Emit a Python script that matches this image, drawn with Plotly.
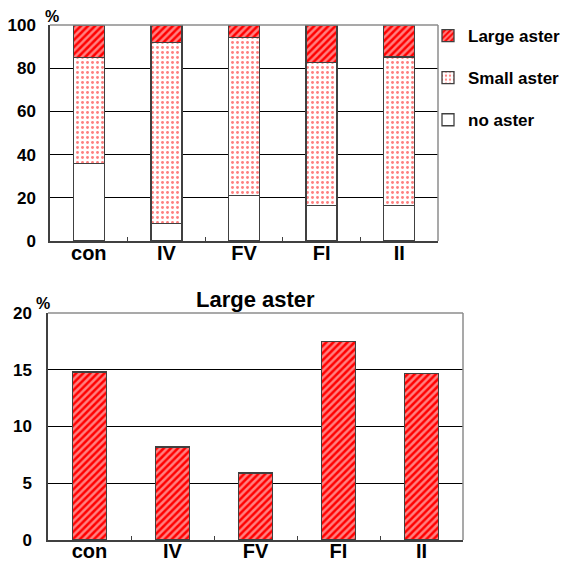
import plotly.graph_objects as go

categories = ["con", "IV", "FV", "FI", "II"]
no_aster = [36, 8, 21, 16.5, 16.5]
small_aster = [49, 83.8, 73.1, 66, 68.7]
large_aster = [15, 8.2, 5.9, 17.5, 14.8]
large_only = [14.8, 8.2, 5.9, 17.5, 14.7]
top_ticks = [0, 20, 40, 60, 80, 100]
bottom_ticks = [0, 5, 10, 15, 20]

FONT = "Liberation Sans, Arial, sans-serif"
DARK = "#404040"
GRAY = "#8c8c8c"

hatch = dict(shape="/", fgcolor="white", bgcolor="#ff0000", size=5, solidity=0.5)
dots = dict(shape=".", fgcolor="#ff0000", bgcolor="white", size=5, solidity=0.26)

fig = go.Figure()
fig.add_trace(go.Bar(x=categories, y=no_aster, name="no aster", legendgroup="c", legendrank=3,
                     marker=dict(color="white", line=dict(color=DARK, width=1.3)),
                     width=0.4, xaxis="x", yaxis="y"))
fig.add_trace(go.Bar(x=categories, y=small_aster, name="Small aster", legendgroup="b", legendrank=2,
                     marker=dict(color="white", pattern=dots, line=dict(color=DARK, width=1.3)),
                     width=0.4, xaxis="x", yaxis="y"))
fig.add_trace(go.Bar(x=categories, y=large_aster, name="Large aster", legendgroup="a", legendrank=1,
                     marker=dict(color="#ff0000", pattern=hatch, line=dict(color=DARK, width=1.3)),
                     width=0.4, xaxis="x", yaxis="y"))
fig.add_trace(go.Bar(x=categories, y=large_only, name="Large aster", showlegend=False,
                     marker=dict(color="#ff0000", pattern=hatch, line=dict(color=DARK, width=1.3)),
                     width=0.41, xaxis="x2", yaxis="y2"))

W, H = 566, 562
tickfont_x = dict(family=FONT, size=20, color="black", weight="bold")
tickfont_y = dict(family=FONT, size=17, color="black", weight="bold")
pct_font = dict(family=FONT, size=16, color="black", weight="bold")

fig.update_layout(
    width=W, height=H,
    margin=dict(l=0, r=0, t=0, b=0, autoexpand=False),
    paper_bgcolor="white", plot_bgcolor="white",
    barmode="stack",
    showlegend=True,
    legend=dict(x=428 / W, y=1 - 18 / H, xanchor="left", yanchor="top",
                traceorder="grouped", tracegroupgap=17,
                font=dict(family=FONT, size=17, color="black", weight="bold"),
                bgcolor="rgba(0,0,0,0)"),
    xaxis=dict(domain=[50 / W, 438 / W], anchor="y", automargin=False,
               showline=True, linecolor=DARK, linewidth=1.5,
               ticks="inside", tickson="boundaries", ticklen=4, tickcolor=DARK,
               ticklabelstandoff=-7, tickfont=tickfont_x, showgrid=False),
    yaxis=dict(domain=[1 - 241 / H, 1 - 25 / H], anchor="x", automargin=False,
               range=[0, 100], tickvals=top_ticks, ticktext=[str(v) for v in top_ticks],
               showline=True, linecolor=DARK, linewidth=1.5,
               showgrid=True, gridcolor="black", gridwidth=1,
               ticks="", ticklabelstandoff=9, tickfont=tickfont_y, zeroline=False),
    xaxis2=dict(domain=[48 / W, 463 / W], anchor="y2", automargin=False,
                showline=True, linecolor=DARK, linewidth=1.5,
                ticks="inside", tickson="boundaries", ticklen=4, tickcolor=DARK,
                ticklabelstandoff=-8, tickfont=tickfont_x, showgrid=False),
    yaxis2=dict(domain=[1 - 540 / H, 1 - 313 / H], anchor="x2", automargin=False,
                range=[0, 20], tickvals=bottom_ticks, ticktext=[str(v) for v in bottom_ticks],
                showline=True, linecolor=DARK, linewidth=1.5,
                showgrid=True, gridcolor="black", gridwidth=1,
                ticks="", ticklabelstandoff=11, tickfont=tickfont_y, zeroline=False),
    shapes=[
        dict(type="line", xref="x domain", yref="y domain", x0=0, x1=1, y0=1, y1=1,
             line=dict(color=GRAY, width=1.5), layer="above"),
        dict(type="line", xref="x domain", yref="y domain", x0=1, x1=1, y0=0, y1=1,
             line=dict(color=GRAY, width=1.5), layer="above"),
        dict(type="line", xref="x2 domain", yref="y2 domain", x0=0, x1=1, y0=1, y1=1,
             line=dict(color=GRAY, width=1.5), layer="above"),
        dict(type="line", xref="x2 domain", yref="y2 domain", x0=1, x1=1, y0=0, y1=1,
             line=dict(color=GRAY, width=1.5), layer="above"),
    ],
    annotations=[
        dict(text="%", xref="paper", yref="paper", x=52 / W, y=1 - 16 / H,
             xanchor="center", yanchor="middle", showarrow=False, font=pct_font),
        dict(text="%", xref="paper", yref="paper", x=43 / W, y=1 - 303 / H,
             xanchor="center", yanchor="middle", showarrow=False, font=pct_font),
        dict(text="Large aster", xref="paper", yref="paper", x=255 / W, y=1 - 299 / H,
             xanchor="center", yanchor="middle", showarrow=False,
             font=dict(family=FONT, size=22, color="black", weight="bold")),
    ],
)

fig.write_html(
    "out.html",
    config={"displayModeBar": False},
    post_script="document.body.style.margin='0';document.body.style.overflow='hidden';",
)
